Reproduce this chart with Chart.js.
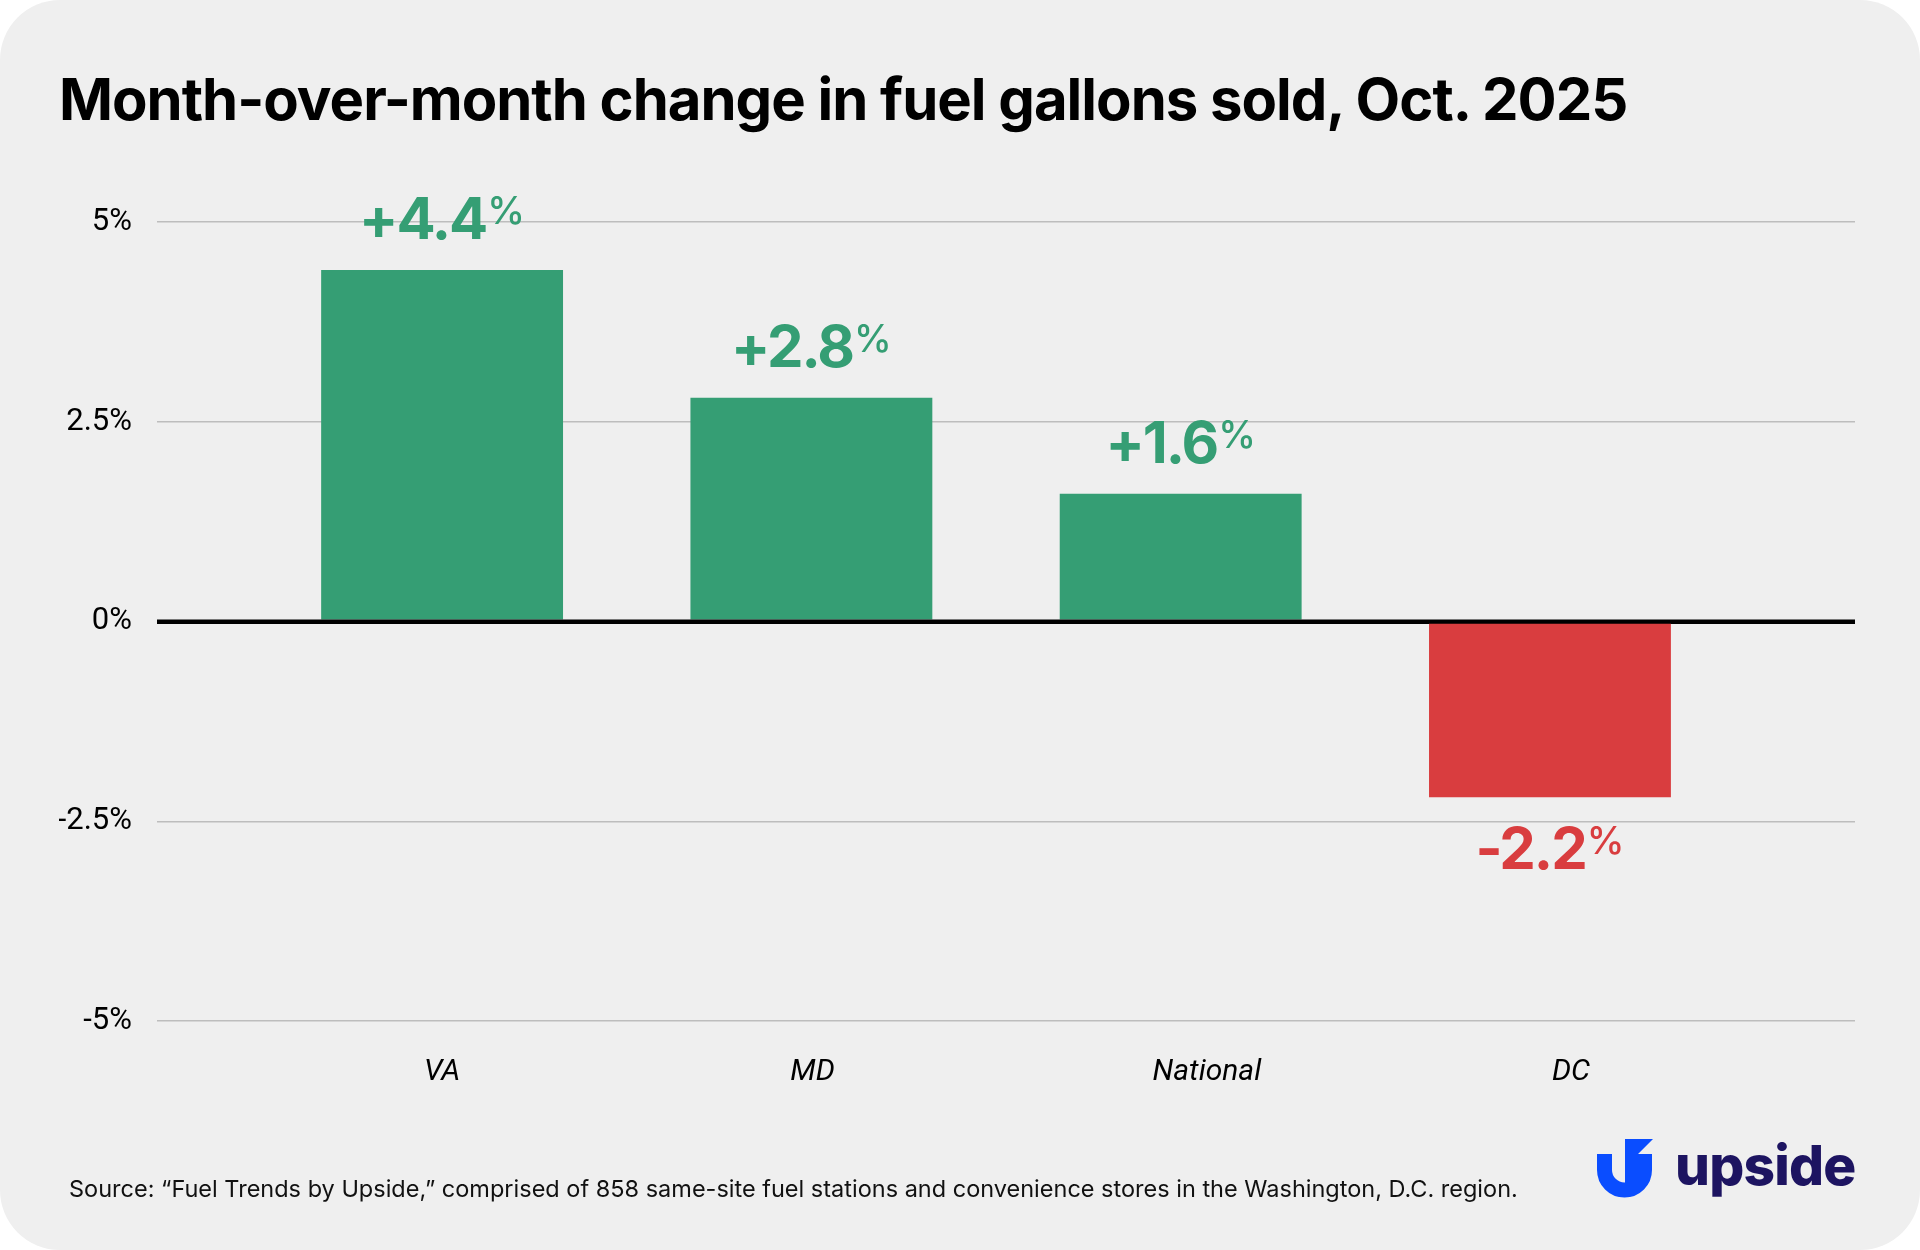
<!DOCTYPE html>
<html>
<head>
<meta charset="utf-8">
<script src="https://cdn.jsdelivr.net/npm/chart.js@4.4.1/dist/chart.umd.min.js"></script>
<style>
  html, body { margin: 0; padding: 0; background: #ffffff; }
  #card { position: absolute; left: 0; top: 0; width: 1920px; height: 1250px; background: #efefef; border-radius: 60px; overflow: hidden; }
  #wrap { position: absolute; left: 0; top: 0; width: 1920px; height: 1250px; }
  #title { position: absolute; left: 59px; top: 70px; margin: 0; font-family: Inter, sans-serif; font-weight: 700; font-size: 58px; line-height: 1; letter-spacing: -1px; color: #000; white-space: nowrap; }
  #source { position: absolute; left: 69px; top: 1177px; font-family: Inter, sans-serif; font-weight: 400; font-size: 23.5px; line-height: 1; color: #111; white-space: nowrap; }
  #logo { position: absolute; left: 1597px; top: 1139px; height: 60px; }
  #logo svg { position: absolute; left: 0; top: 0; }
  #logo span { position: absolute; left: 78px; top: -1px; font-family: Inter, sans-serif; font-weight: 800; font-size: 55px; line-height: 1; letter-spacing: -0.8px; color: #1d1461; white-space: nowrap; }
</style>
</head>
<body>
<div id="card">
  <div id="wrap"><canvas id="chart" width="1920" height="1250"></canvas></div>
  <h1 id="title">Month-over-month change in fuel gallons sold, Oct. 2025</h1>
  <div id="source">Source: “Fuel Trends by Upside,” comprised of 858 same-site fuel stations and convenience stores in the Washington, D.C. region.</div>
  <div id="logo">
    <svg width="56" height="60" viewBox="0 0 56 60">
      <path d="M7.5 15 L7.5 31 A20 20 0 0 0 47.5 31 L47.5 15" fill="none" stroke="#0a4dff" stroke-width="15"/>
      <path d="M28 0 L56 0 L41 15 L41 45 L28 45 Z" fill="#0a4dff"/>
    </svg>
    <span>upside</span>
  </div>
</div>
<script>
// ---- data ----
const categories = ['VA', 'MD', 'National', 'DC'];
const changes = [4.4, 2.8, 1.6, -2.2];
const yTickValues = [-5, -2.5, 0, 2.5, 5];
const yTickLabels = ['-5%', '-2.5%', '0%', '2.5%', '5%'];

// ---- styling / layout ----
const GREEN = '#359e74';
const RED = '#d93d3f';
const labelPositions = [0, 1.003, 2.071, 3.057]; // category label placement on the x axis
const X_MIN = -0.772, X_MAX = 3.826;

const valueLabels = {
  id: 'valueLabels',
  afterDatasetsDraw(chart) {
    const ctx = chart.ctx;
    const ys = chart.scales.y;
    const area = chart.chartArea;
    const y0 = ys.getPixelForValue(0);
    ctx.save();
    ctx.strokeStyle = '#000';
    ctx.lineWidth = 4;
    ctx.beginPath();
    ctx.moveTo(area.left, y0);
    ctx.lineTo(area.right, y0);
    ctx.stroke();
    const meta = chart.getDatasetMeta(0);
    meta.data.forEach((bar, i) => {
      const v = changes[i];
      const main = (v > 0 ? '+' : '') + v.toFixed(1);
      const pct = '%';
      ctx.font = '700 58px Inter';
      if ('letterSpacing' in ctx) ctx.letterSpacing = '-2px';
      const w1 = ctx.measureText(main).width;
      ctx.font = '500 38px Inter';
      if ('letterSpacing' in ctx) ctx.letterSpacing = '0px';
      const w2 = ctx.measureText(pct).width;
      const gap = 1;
      const x0 = bar.x - (w1 + gap + w2) / 2;
      const baseline = v >= 0 ? bar.y - 31 : bar.y + 72;
      ctx.fillStyle = v >= 0 ? GREEN : RED;
      ctx.textAlign = 'left';
      ctx.textBaseline = 'alphabetic';
      ctx.font = '700 58px Inter';
      if ('letterSpacing' in ctx) ctx.letterSpacing = '-2px';
      ctx.fillText(main, x0, baseline);
      ctx.font = '500 38px Inter';
      if ('letterSpacing' in ctx) ctx.letterSpacing = '0px';
      ctx.fillText(pct, x0 + w1 + gap, baseline - 15);
    });
    ctx.restore();
  }
};

function build() {
  new Chart(document.getElementById('chart'), {
    type: 'bar',
    data: {
      datasets: [{
        data: categories.map((c, i) => ({ x: i, y: changes[i] })),
        backgroundColor: changes.map(v => v >= 0 ? GREEN : RED),
        borderWidth: 0,
        categoryPercentage: 1,
        barPercentage: 0.655
      }]
    },
    options: {
      responsive: false,
      devicePixelRatio: 1,
      animation: false,
      layout: { padding: { top: 222, left: 59, right: 65, bottom: 150 } },
      plugins: { legend: { display: false }, tooltip: { enabled: false }, title: { display: false } },
      scales: {
        x: {
          type: 'linear', display: false, offset: false, min: X_MIN, max: X_MAX,
          afterBuildTicks: s => { s.ticks = categories.map((c, i) => ({ value: i })); }
        },
        xl: {
          type: 'linear', position: 'bottom', offset: false, min: X_MIN, max: X_MAX,
          grid: { display: false, drawTicks: false },
          border: { display: false },
          afterBuildTicks: s => { s.ticks = labelPositions.map(v => ({ value: v })); },
          afterFit: s => { s.height = 79; },
          ticks: {
            autoSkip: false, maxRotation: 0, padding: 33, color: '#000',
            font: { family: 'Roboto', size: 30, style: 'italic' },
            callback: (v, i) => categories[i]
          }
        },
        y: {
          type: 'linear', min: -5, max: 5,
          afterBuildTicks: s => { s.ticks = yTickValues.map(v => ({ value: v })); },
          afterFit: s => { s.width = 98; },
          grid: {
            drawTicks: false,
            color: c => (c.tick && c.tick.value === 0) ? '#000' : '#bdbdbd',
            lineWidth: c => (c.tick && c.tick.value === 0) ? 4 : 1.5
          },
          border: { display: false },
          ticks: {
            padding: 25, color: '#000',
            font: { family: 'Roboto', size: 31 },
            callback: (v, i) => yTickLabels[yTickValues.indexOf(v)]
          }
        }
      }
    },
    plugins: [valueLabels]
  });
}

Promise.all([
  document.fonts.load('700 58px Inter'),
  document.fonts.load('500 38px Inter'),
  document.fonts.load('31px Roboto'),
  document.fonts.load('italic 30px Roboto')
]).then(build, build);
</script>
</body>
</html>
